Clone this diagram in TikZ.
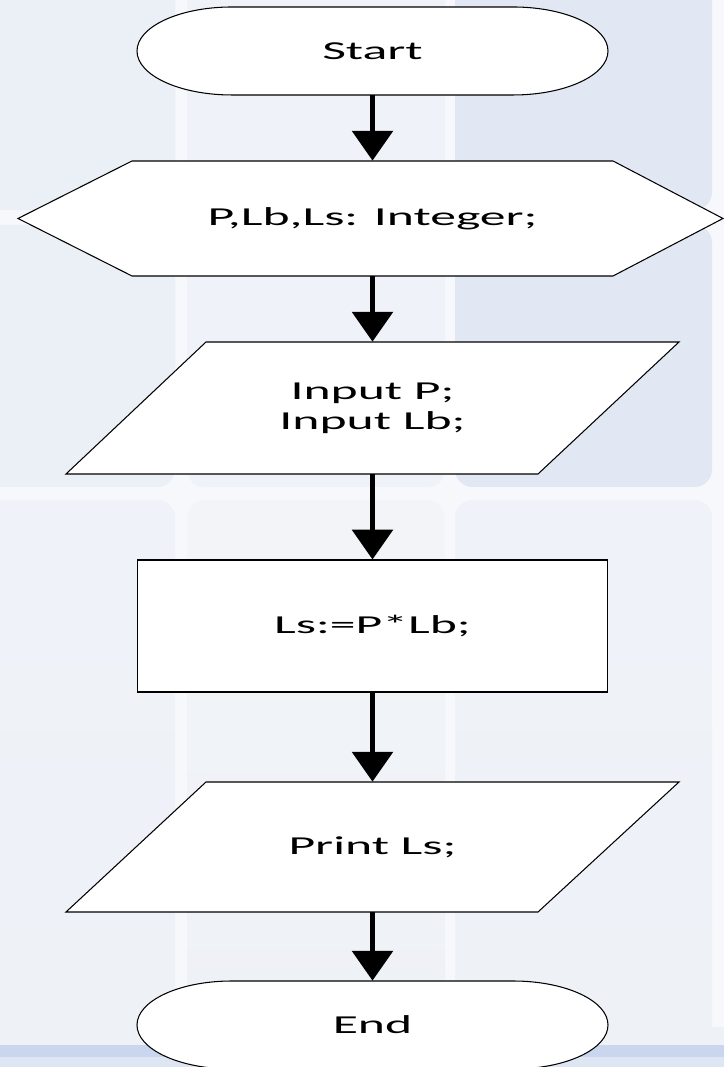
\documentclass[tikz,border=0pt]{standalone}
\usepackage{fontspec}
\setmainfont{Carlito}
\usepackage{tikz}
\usetikzlibrary{calc}
\usetikzlibrary{arrows.meta}
\definecolor{fafbfd}{rgb}{0.965,0.973,0.984}
\definecolor{ebeff6}{rgb}{0.922,0.937,0.965}
\definecolor{eff2f8}{rgb}{0.937,0.949,0.973}
\definecolor{e2e8f3}{rgb}{0.886,0.910,0.953}
\definecolor{f2f4f8}{rgb}{0.949,0.957,0.973}
\definecolor{eef1f6}{rgb}{0.933,0.945,0.965}
\definecolor{c9d6ee}{rgb}{0.788,0.839,0.933}
\definecolor{dfe6f3}{rgb}{0.875,0.902,0.953}
\tikzstyle{every node}=[font=\fontsize{14}{17}\selectfont]
\newcommand{\wtxt}[1]{\scalebox{2.1}[1.05]{#1}}

\begin{document}
\begin{tikzpicture}[line cap=butt,line join=miter,>={Triangle[length=17pt,width=23pt]},x=0.02cm,y=0.02cm]
\clip(0,0) rectangle (724,1067);
% background tiles
\fill [color=fafbfd] (0,0) rectangle (724,1067);
\fill [color=ebeff6,rounded corners=0.35cm] (-20,857) rectangle (175,1090);
\fill [color=eff2f8,rounded corners=0.35cm] (187,857) rectangle (445,1090);
\fill [color=e2e8f3,rounded corners=0.35cm] (455,857) rectangle (712,1090);
\fill [color=ebeff6,rounded corners=0.35cm] (-20,580) rectangle (175,842);
\fill [color=eff2f8,rounded corners=0.35cm] (187,580) rectangle (445,842);
\fill [color=e2e8f3,rounded corners=0.35cm] (455,580) rectangle (712,842);
\shade [top color=eff2f8,bottom color=eef1f6,rounded corners=0.35cm] (-20,25) rectangle (175,567);
\shade [top color=f2f4f8,bottom color=eef1f6,rounded corners=0.35cm] (187,25) rectangle (445,567);
\shade [top color=eff2f8,bottom color=eef1f6,rounded corners=0.35cm] (455,25) rectangle (712,567);
\fill [color=eef1f6] (0,22) rectangle (724,40);
\fill [color=c9d6ee] (0,10) rectangle (724,22);
\fill [color=dfe6f3] (0,0) rectangle (724,10);
% flowchart shapes
\draw [line width=0.6pt,fill=white] (232,1060) -- (513,1060) arc[start angle=90,end angle=-90,x radius=95,y radius=44] -- (232,972) arc[start angle=270,end angle=90,x radius=95,y radius=44] -- cycle;
\draw [line width=0.6pt,fill=white] (18,848.5) -- (132,906) -- (613,906) -- (723,848.5) -- (613,791) -- (132,791) -- cycle;
\draw [line width=0.6pt,fill=white] (206,725) -- (679,725) -- (538,593) -- (66,593) -- cycle;
\draw [line width=0.6pt,fill=white] (206,285) -- (679,285) -- (538,155) -- (66,155) -- cycle;
\draw [line width=0.6pt,fill=white] (232,86) -- (513,86) arc[start angle=90,end angle=-90,x radius=95,y radius=44] -- (232,-2) arc[start angle=270,end angle=90,x radius=95,y radius=44] -- cycle;
% texts
\node [minimum height=1.76cm,inner sep=0pt] (start) at (372.5,1016) {\wtxt{Start}};
\node [minimum height=2.3cm,inner sep=0pt] (decl) at (372.5,848.5) {\wtxt{P,Lb,Ls: Integer;}};
\node [minimum height=2.64cm,inner sep=0pt,align=center] (inp) at (372.5,659) {\wtxt{Input P;}\\\wtxt{Input Lb;}};
\node [draw,line width=0.6pt,fill=white,minimum width=9.42cm,minimum height=2.64cm,inner sep=0pt] (calc) at (372.5,441) {\wtxt{Ls:=P*Lb;}};
\node [minimum height=2.6cm,inner sep=0pt] (outp) at (372.5,220) {\wtxt{Print Ls;}};
\node [minimum height=1.76cm,inner sep=0pt] (fin) at (372.5,42) {\wtxt{End}};
% arrows
\draw [->,line width=2.8pt] (start.south) -- (decl.north);
\draw [->,line width=2.8pt] (decl.south) -- (inp.north);
\draw [->,line width=2.8pt] (inp.south) -- (calc.north);
\draw [->,line width=2.8pt] (calc.south) -- (outp.north);
\draw [->,line width=2.8pt] (outp.south) -- (fin.north);
\end{tikzpicture}
\end{document}
